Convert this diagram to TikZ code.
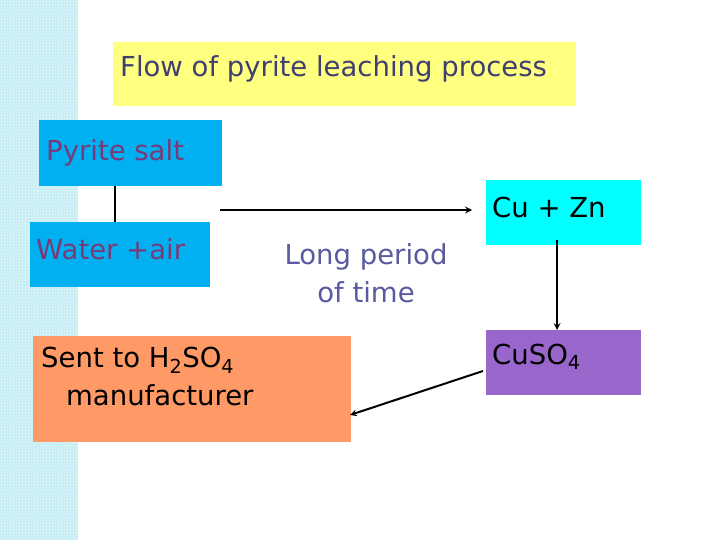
\documentclass[tikz,border=0pt]{standalone}
\usepackage{fontspec}
\setmainfont{DejaVu Sans}
\usetikzlibrary{patterns}
\definecolor{strip}{HTML}{C4EEF4}
\definecolor{ttl}{HTML}{FFFF80}
\definecolor{blu}{HTML}{00B0F0}
\definecolor{cya}{HTML}{00FFFF}
\definecolor{pur}{HTML}{9966CC}
\definecolor{ora}{HTML}{FF9966}
\definecolor{txtp}{HTML}{7A3A78}
\definecolor{txtb}{HTML}{5A5AA0}
\begin{document}
\begin{tikzpicture}[x=1pt,y=-1pt,
  fnt/.style={font=\fontsize{27.5}{38}\selectfont},
  arr/.style={-stealth,line width=2pt}]
\useasboundingbox (0,0) rectangle (720,540);
\fill[white] (0,0) rectangle (720,540);
\fill[strip] (0,0) rectangle (78,540);
\fill[pattern=crosshatch dots,pattern color=white] (0,0) rectangle (78,540);
\fill[ttl] (113,42) rectangle (576,106);
\node[anchor=west,text=txtb!70!black,fnt,inner sep=0pt] (title) at (120,69) {Flow of pyrite leaching process};
\fill[blu] (39,120) rectangle (222,186);
\node[anchor=west,text=txtp,fnt,inner sep=0pt] (ps) at (46,153) {Pyrite salt};
\coordinate (psb) at (115,186);
\fill[blu] (30,222) rectangle (210,287);
\node[anchor=west,text=txtp,fnt,inner sep=0pt] (wa) at (36,249) {Water +air};
\coordinate (wat) at (115,222);
\draw[line width=1.2pt] (psb) -- (wat);
\fill[cya] (486,180) rectangle (641,245);
\node[anchor=west,fnt,inner sep=0pt] (cz) at (492,207) {Cu + Zn};
\fill[pur] (486,330) rectangle (641,395);
\node[anchor=west,fnt,inner sep=0pt] (cs) at (492,357) {CuSO\textsubscript{4}};
\fill[ora] (33,336) rectangle (351,442);
\node[anchor=north west,align=left,fnt,inner sep=0pt] (st) at (41,347) {Sent to H\textsubscript{2}SO\textsubscript{4}\\\hspace*{25pt}manufacturer};
\node[align=center,text=txtb,fnt,inner sep=0pt] (lp) at (366,273) {Long period\\of time};
\coordinate (a1) at (220,210); \coordinate (a2) at (472,210);
\draw[arr] (a1) -- (a2);
\coordinate (b1) at (557,240); \coordinate (b2) at (557,330);
\draw[arr] (b1) -- (b2);
\coordinate (c1) at (483,371); \coordinate (c2) at (350,415);
\draw[arr] (c1) -- (c2);
\end{tikzpicture}
\end{document}
